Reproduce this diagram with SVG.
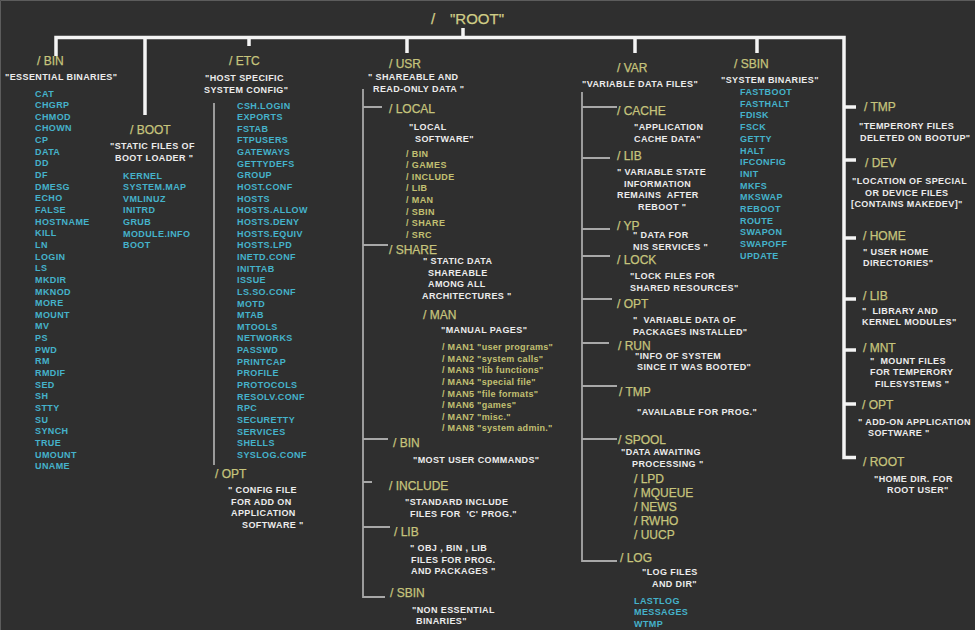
<svg xmlns="http://www.w3.org/2000/svg" width="975" height="630" viewBox="0 0 975 630">
<style>
text{font-family:"Liberation Sans",Arial,sans-serif}
.t{font-size:15px;fill:#cfcd86;stroke:#cfcd86;stroke-width:.25}
.l{font-size:12px;fill:#c6c47c;stroke:#c6c47c;stroke-width:.25}
.d{font-size:9px;font-weight:bold;letter-spacing:.4px;fill:#ececec}
.c{font-size:9px;font-weight:bold;letter-spacing:.4px;fill:#45b3cb}
.o{font-size:9px;font-weight:bold;letter-spacing:.4px;fill:#c2c072}
.m{font-size:9px;font-weight:bold;letter-spacing:.3px;fill:#c2c072}
.ol{font-size:12px;fill:#c6c47c;stroke:#c6c47c;stroke-width:.25}
.thick{fill:none;stroke:#f4f4f4;stroke-width:3.5}
.thin{fill:none;stroke:#a8a8a8;stroke-width:1.8}
</style>
<rect width="975" height="630" fill="#2f2f2f"/>
<path d="M0.5,630 V0.5 H975" fill="none" stroke="#5c5c5c" stroke-width="1"/>

<g id="connectors">
<path class="thick" d="M56,56 V37.5 H844 V457.5 H856"/>
<path class="thick" d="M145,37.5 V115 M249,37.5 V46 M463,28 V37.5 M407,37.5 V53 M635,37.5 V53 M757,37.5 V53"/>
<path class="thick" d="M844,107 H856 M844,160 H856 M844,238 H856 M844,299 H856 M844,350 H856 M844,404 H856"/>
<path class="thin" d="M214,103 V465"/>
<path class="thin" d="M363,89 V597 H385 M363,107 H382 M363,245 H388 M363,439 H388 M363,482 H372 M363,527 H390"/>
<path class="thin" d="M582,92 V561 H617 M582,107 H617 M582,158 H610 M582,229 H610 M582,256 H610 M582,299 H612 M582,343 H609 M582,386 H617 M582,439 H617"/>
</g>

<g id="root"><text class="t" y="24"><tspan x="431">/</tspan><tspan x="450">"ROOT"</tspan></text></g>

<g id="bin">
<text class="l" x="37" y="65">/ BIN</text>
<text class="d" x="5" y="80">"ESSENTIAL BINARIES"</text>
<text class="c" y="96.5"><tspan x="35">CAT</tspan><tspan x="35" dy="11.65">CHGRP</tspan><tspan x="35" dy="11.65">CHMOD</tspan><tspan x="35" dy="11.65">CHOWN</tspan><tspan x="35" dy="11.65">CP</tspan><tspan x="35" dy="11.65">DATA</tspan><tspan x="35" dy="11.65">DD</tspan><tspan x="35" dy="11.65">DF</tspan><tspan x="35" dy="11.65">DMESG</tspan><tspan x="35" dy="11.65">ECHO</tspan><tspan x="35" dy="11.65">FALSE</tspan><tspan x="35" dy="11.65">HOSTNAME</tspan><tspan x="35" dy="11.65">KILL</tspan><tspan x="35" dy="11.65">LN</tspan><tspan x="35" dy="11.65">LOGIN</tspan><tspan x="35" dy="11.65">LS</tspan><tspan x="35" dy="11.65">MKDIR</tspan><tspan x="35" dy="11.65">MKNOD</tspan><tspan x="35" dy="11.65">MORE</tspan><tspan x="35" dy="11.65">MOUNT</tspan><tspan x="35" dy="11.65">MV</tspan><tspan x="35" dy="11.65">PS</tspan><tspan x="35" dy="11.65">PWD</tspan><tspan x="35" dy="11.65">RM</tspan><tspan x="35" dy="11.65">RMDIF</tspan><tspan x="35" dy="11.65">SED</tspan><tspan x="35" dy="11.65">SH</tspan><tspan x="35" dy="11.65">STTY</tspan><tspan x="35" dy="11.65">SU</tspan><tspan x="35" dy="11.65">SYNCH</tspan><tspan x="35" dy="11.65">TRUE</tspan><tspan x="35" dy="11.65">UMOUNT</tspan><tspan x="35" dy="11.65">UNAME</tspan></text>
</g>

<g id="boot">
<text class="l" x="130" y="134">/ BOOT</text>
<text class="d" x="110" y="149">"STATIC FILES OF</text>
<text class="d" x="115" y="160.5">BOOT LOADER "</text>
<text class="c" y="178.5"><tspan x="123">KERNEL</tspan><tspan x="123" dy="11.65">SYSTEM.MAP</tspan><tspan x="123" dy="11.65">VMLINUZ</tspan><tspan x="123" dy="11.65">INITRD</tspan><tspan x="123" dy="11.65">GRUB</tspan><tspan x="123" dy="11.65">MODULE.INFO</tspan><tspan x="123" dy="11.65">BOOT</tspan></text>
</g>

<g id="etc">
<text class="l" x="229" y="64.5">/ ETC</text>
<text class="d" x="205" y="81">"HOST SPECIFIC</text>
<text class="d" x="204" y="92.5">SYSTEM CONFIG"</text>
<text class="c" y="108.5"><tspan x="237">CSH.LOGIN</tspan><tspan x="237" dy="11.65">EXPORTS</tspan><tspan x="237" dy="11.65">FSTAB</tspan><tspan x="237" dy="11.65">FTPUSERS</tspan><tspan x="237" dy="11.65">GATEWAYS</tspan><tspan x="237" dy="11.65">GETTYDEFS</tspan><tspan x="237" dy="11.65">GROUP</tspan><tspan x="237" dy="11.65">HOST.CONF</tspan><tspan x="237" dy="11.65">HOSTS</tspan><tspan x="237" dy="11.65">HOSTS.ALLOW</tspan><tspan x="237" dy="11.65">HOSTS.DENY</tspan><tspan x="237" dy="11.65">HOSTS.EQUIV</tspan><tspan x="237" dy="11.65">HOSTS.LPD</tspan><tspan x="237" dy="11.65">INETD.CONF</tspan><tspan x="237" dy="11.65">INITTAB</tspan><tspan x="237" dy="11.65">ISSUE</tspan><tspan x="237" dy="11.65">LS.SO.CONF</tspan><tspan x="237" dy="11.65">MOTD</tspan><tspan x="237" dy="11.65">MTAB</tspan><tspan x="237" dy="11.65">MTOOLS</tspan><tspan x="237" dy="11.65">NETWORKS</tspan><tspan x="237" dy="11.65">PASSWD</tspan><tspan x="237" dy="11.65">PRINTCAP</tspan><tspan x="237" dy="11.65">PROFILE</tspan><tspan x="237" dy="11.65">PROTOCOLS</tspan><tspan x="237" dy="11.65">RESOLV.CONF</tspan><tspan x="237" dy="11.65">RPC</tspan><tspan x="237" dy="11.65">SECURETTY</tspan><tspan x="237" dy="11.65">SERVICES</tspan><tspan x="237" dy="11.65">SHELLS</tspan><tspan x="237" dy="11.65">SYSLOG.CONF</tspan></text>
</g>

<g id="etc-opt">
<text class="l" x="215" y="478">/ OPT</text>
<text class="d" x="228" y="493">" CONFIG FILE</text>
<text class="d" x="231" y="504.5">FOR ADD ON</text>
<text class="d" x="231" y="516">APPLICATION</text>
<text class="d" x="242" y="527.5">SOFTWARE "</text>
</g>

<g id="usr">
<text class="l" x="389" y="67.5">/ USR</text>
<text class="d" x="368" y="80">" SHAREABLE AND</text>
<text class="d" x="373" y="91.5">READ-ONLY DATA "</text>
</g>

<g id="usr-local">
<text class="l" x="389" y="113">/ LOCAL</text>
<text class="d" x="409" y="130">"LOCAL</text>
<text class="d" x="415" y="141.5">SOFTWARE"</text>
<text class="o" y="156.5"><tspan x="406">/ BIN</tspan><tspan x="406" dy="11.65">/ GAMES</tspan><tspan x="406" dy="11.65">/ INCLUDE</tspan><tspan x="406" dy="11.65">/ LIB</tspan><tspan x="406" dy="11.65">/ MAN</tspan><tspan x="406" dy="11.65">/ SBIN</tspan><tspan x="406" dy="11.65">/ SHARE</tspan><tspan x="406" dy="11.65">/ SRC</tspan></text>
</g>

<g id="usr-share">
<text class="l" x="389" y="253.5">/ SHARE</text>
<text class="d" x="423" y="264">" STATIC DATA</text>
<text class="d" x="428" y="275.5">SHAREABLE</text>
<text class="d" x="428" y="287">AMONG ALL</text>
<text class="d" x="422" y="298.5">ARCHITECTURES "</text>
</g>

<g id="usr-share-man">
<text class="l" x="423" y="319">/ MAN</text>
<text class="d" x="441" y="332.5">"MANUAL PAGES"</text>
<text class="m" y="350"><tspan x="442">/ MAN1 "user programs"</tspan><tspan x="442" dy="11.64">/ MAN2 "system calls"</tspan><tspan x="442" dy="11.64">/ MAN3 "lib functions"</tspan><tspan x="442" dy="11.64">/ MAN4 "special file"</tspan><tspan x="442" dy="11.64">/ MAN5 "file formats"</tspan><tspan x="442" dy="11.64">/ MAN6 "games"</tspan><tspan x="442" dy="11.64">/ MAN7 "misc."</tspan><tspan x="442" dy="11.64">/ MAN8 "system admin."</tspan></text>
</g>

<g id="usr-bin">
<text class="l" x="393" y="447">/ BIN</text>
<text class="d" x="413" y="463">"MOST USER COMMANDS"</text>
</g>

<g id="usr-include">
<text class="l" x="389" y="490">/ INCLUDE</text>
<text class="d" x="405" y="505">"STANDARD INCLUDE</text>
<text class="d" x="410" y="516.5" xml:space="preserve">FILES FOR  'C' PROG."</text>
</g>

<g id="usr-lib">
<text class="l" x="394" y="535.5">/ LIB</text>
<text class="d" x="410" y="551">" OBJ , BIN , LIB</text>
<text class="d" x="411" y="562.5">FILES FOR PROG.</text>
<text class="d" x="411" y="574">AND PACKAGES "</text>
</g>

<g id="usr-sbin">
<text class="l" x="390" y="597">/ SBIN</text>
<text class="d" x="412" y="612.5">"NON ESSENTIAL</text>
<text class="d" x="416" y="624">BINARIES"</text>
</g>

<g id="var">
<text class="l" x="617" y="71.5">/ VAR</text>
<text class="d" x="582" y="87">"VARIABLE DATA FILES"</text>
</g>

<g id="var-cache">
<text class="l" x="617" y="115">/ CACHE</text>
<text class="d" x="634" y="130">"APPLICATION</text>
<text class="d" x="634" y="141.5">CACHE DATA"</text>
</g>

<g id="var-lib">
<text class="l" x="617" y="159.5">/ LIB</text>
<text class="d" x="617" y="175">" VARIABLE STATE</text>
<text class="d" x="624" y="186.5">INFORMATION</text>
<text class="d" x="617" y="198" xml:space="preserve">REMAINS  AFTER</text>
<text class="d" x="638" y="209.5">REBOOT "</text>
</g>

<g id="var-yp">
<text class="l" x="617" y="229.5">/ YP</text>
<text class="d" x="633" y="238">" DATA FOR</text>
<text class="d" x="633" y="249.5">NIS SERVICES "</text>
</g>

<g id="var-lock">
<text class="l" x="617" y="264">/ LOCK</text>
<text class="d" x="630" y="279">"LOCK FILES FOR</text>
<text class="d" x="630" y="290.5">SHARED RESOURCES"</text>
</g>

<g id="var-opt">
<text class="l" x="617" y="307.5">/ OPT</text>
<text class="d" x="633" y="323" xml:space="preserve">"  VARIABLE DATA OF</text>
<text class="d" x="633" y="334.5">PACKAGES INSTALLED"</text>
</g>

<g id="var-run">
<text class="l" x="618" y="349.5">/ RUN</text>
<text class="d" x="635" y="358.5">"INFO OF SYSTEM</text>
<text class="d" x="637" y="370">SINCE IT WAS BOOTED"</text>
</g>

<g id="var-tmp">
<text class="l" x="619" y="396">/ TMP</text>
<text class="d" x="637" y="415">"AVAILABLE FOR PROG."</text>
</g>

<g id="var-spool">
<text class="l" x="618" y="443.5">/ SPOOL</text>
<text class="d" x="621" y="455">"DATA AWAITING</text>
<text class="d" x="632" y="466.5">PROCESSING "</text>
<text class="ol" x="634" y="482.5">/ LPD</text>
<text class="ol" x="634" y="496.5">/ MQUEUE</text>
<text class="ol" x="634" y="510.5">/ NEWS</text>
<text class="ol" x="634" y="524.5">/ RWHO</text>
<text class="ol" x="634" y="538.5">/ UUCP</text>
</g>

<g id="var-log">
<text class="l" x="620" y="562">/ LOG</text>
<text class="d" x="642" y="575">"LOG FILES</text>
<text class="d" x="652" y="586.5">AND DIR"</text>
<text class="c" y="603.5"><tspan x="634">LASTLOG</tspan><tspan x="634" dy="11.5">MESSAGES</tspan><tspan x="634" dy="11.5">WTMP</tspan></text>
</g>

<g id="sbin">
<text class="l" x="734" y="68">/ SBIN</text>
<text class="d" x="721" y="83">"SYSTEM BINARIES"</text>
<text class="c" y="95"><tspan x="740">FASTBOOT</tspan><tspan x="740" dy="11.7">FASTHALT</tspan><tspan x="740" dy="11.7">FDISK</tspan><tspan x="740" dy="11.7">FSCK</tspan><tspan x="740" dy="11.7">GETTY</tspan><tspan x="740" dy="11.7">HALT</tspan><tspan x="740" dy="11.7">IFCONFIG</tspan><tspan x="740" dy="11.7">INIT</tspan><tspan x="740" dy="11.7">MKFS</tspan><tspan x="740" dy="11.7">MKSWAP</tspan><tspan x="740" dy="11.7">REBOOT</tspan><tspan x="740" dy="11.7">ROUTE</tspan><tspan x="740" dy="11.7">SWAPON</tspan><tspan x="740" dy="11.7">SWAPOFF</tspan><tspan x="740" dy="11.7">UPDATE</tspan></text>
</g>

<g id="tmp">
<text class="l" x="864" y="110.5">/ TMP</text>
<text class="d" x="859" y="129">"TEMPERORY FILES</text>
<text class="d" x="860" y="140.5">DELETED ON BOOTUP"</text>
</g>

<g id="dev">
<text class="l" x="865" y="167">/ DEV</text>
<text class="d" x="852" y="184">"LOCATION OF SPECIAL</text>
<text class="d" x="865" y="195.5">OR DEVICE FILES</text>
<text class="d" x="851" y="207">[CONTAINS MAKEDEV]"</text>
</g>

<g id="home">
<text class="l" x="863" y="240">/ HOME</text>
<text class="d" x="863" y="255">" USER HOME</text>
<text class="d" x="863" y="266">DIRECTORIES"</text>
</g>

<g id="lib">
<text class="l" x="863" y="300">/ LIB</text>
<text class="d" x="862" y="314" xml:space="preserve">"  LIBRARY AND</text>
<text class="d" x="862" y="325">KERNEL MODULES"</text>
</g>

<g id="mnt">
<text class="l" x="863" y="352">/ MNT</text>
<text class="d" x="870" y="363.5" xml:space="preserve">"  MOUNT FILES</text>
<text class="d" x="870" y="375">FOR TEMPERORY</text>
<text class="d" x="875" y="386.5">FILESYSTEMS "</text>
</g>

<g id="opt">
<text class="l" x="862" y="409">/ OPT</text>
<text class="d" x="858" y="424.5">" ADD-ON APPLICATION</text>
<text class="d" x="868" y="436">SOFTWARE "</text>
</g>

<g id="root-home">
<text class="l" x="863" y="466">/ ROOT</text>
<text class="d" x="874" y="481.5">"HOME DIR. FOR</text>
<text class="d" x="887" y="493">ROOT USER"</text>
</g>
</svg>
